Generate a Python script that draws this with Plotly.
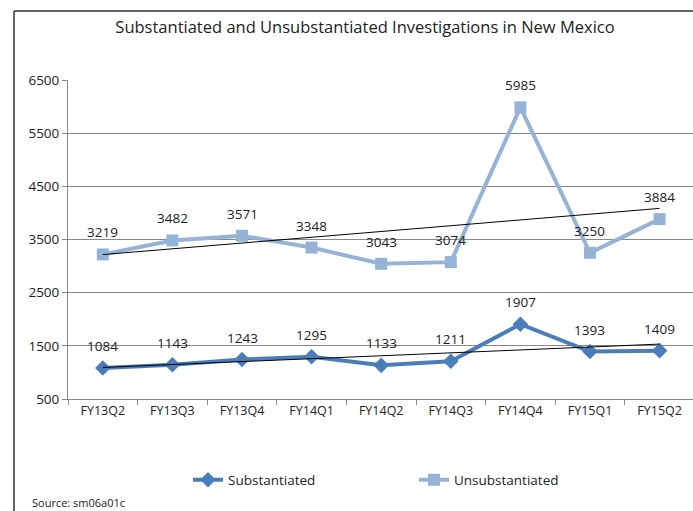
import numpy as np
import plotly.graph_objects as go

quarters = ["FY13Q2", "FY13Q3", "FY13Q4", "FY14Q1", "FY14Q2", "FY14Q3", "FY14Q4", "FY15Q1", "FY15Q2"]
substantiated = [1084, 1143, 1243, 1295, 1133, 1211, 1907, 1393, 1409]
unsubstantiated = [3219, 3482, 3571, 3348, 3043, 3074, 5985, 3250, 3884]
y_ticks = [500, 1500, 2500, 3500, 4500, 5500, 6500]

W, H = 693, 511
L, R, T, B = 68, 0, 80, 112
pw = W - L - R
ph = H - T - B

def px_x(p):
    return (p - L) / pw

def px_y(p):
    return (H - B - p) / ph

FONT = "Open Sans, Liberation Sans, sans-serif"
dark = "#4A7EBB"
light = "#95B3D7"

idx = np.arange(len(quarters))

def trend(vals):
    m, c = np.polyfit(idx, np.array(vals, dtype=float), 1)
    return list(m * idx + c)

fig = go.Figure()
fig.add_trace(go.Scatter(
    x=quarters, y=substantiated, name="Substantiated",
    mode="lines+markers",
    line=dict(color=dark, width=4), marker=dict(symbol="diamond", size=12, color=dark),
))
fig.add_trace(go.Scatter(
    x=quarters, y=unsubstantiated, name="Unsubstantiated",
    mode="lines+markers",
    line=dict(color=light, width=4), marker=dict(symbol="square", size=12, color=light),
))
for vals in (substantiated, unsubstantiated):
    fig.add_trace(go.Scatter(
        x=quarters, y=trend(vals), mode="lines", showlegend=False, hoverinfo="skip",
        line=dict(color="black", width=1),
    ))

annotations = []
for series in (substantiated, unsubstantiated):
    for q, v in zip(quarters, series):
        annotations.append(dict(x=q, y=v, text=str(v), showarrow=False, yshift=22,
                                xanchor="center", yanchor="middle",
                                font=dict(size=13.5, color="#222")))
annotations.append(dict(text="Source: sm06a01c", xref="paper", yref="paper", x=px_x(30), y=px_y(493),
                        xanchor="left", yanchor="top", showarrow=False,
                        font=dict(size=11, color="#222")))

fig.update_layout(
    width=W, height=H,
    margin=dict(l=L, r=R, t=T, b=B, autoexpand=False),
    paper_bgcolor="white", plot_bgcolor="white",
    font=dict(family=FONT, size=12, color="#222"),
    title=dict(text="Substantiated and Unsubstantiated Investigations in New Mexico",
               x=365 / W, xanchor="center", xref="container", y=1 - 27 / H, yref="container",
               yanchor="middle", font=dict(size=16.5, color="#222"), automargin=False),
    showlegend=True,
    legend=dict(orientation="h", x=px_x(188), xanchor="left", y=px_y(480), yanchor="middle",
                font=dict(size=13.5), itemwidth=30, tracegroupgap=0, entrywidth=181),
    xaxis=dict(
        type="category", range=[-0.5, 8.48], tickson="boundaries", automargin=False,
        ticks="outside", ticklen=5, tickcolor="#888", showline=True, linecolor="#888",
        showgrid=False, tickfont=dict(size=12.5), fixedrange=True,
    ),
    yaxis=dict(
        range=[500, 6500], tickvals=y_ticks, ticks="outside", ticklen=5, tickcolor="#888",
        showline=True, linecolor="#888", showgrid=True, gridcolor="#888", gridwidth=1,
        zeroline=False, tickfont=dict(size=13.5), fixedrange=True, automargin=False,
    ),
    shapes=[
        dict(type="line", xref="paper", yref="paper", x0=px_x(14), x1=px_x(14),
             y0=px_y(11), y1=px_y(515), line=dict(color="#333", width=1.5)),
        dict(type="line", xref="paper", yref="paper", x0=px_x(14), x1=px_x(700),
             y0=px_y(11), y1=px_y(11), line=dict(color="#333", width=1.5)),
    ],
    annotations=annotations,
)

fig.write_html("out.html", config={"displayModeBar": False},
               post_script="document.body.style.margin='0';document.body.style.overflow='hidden';")
